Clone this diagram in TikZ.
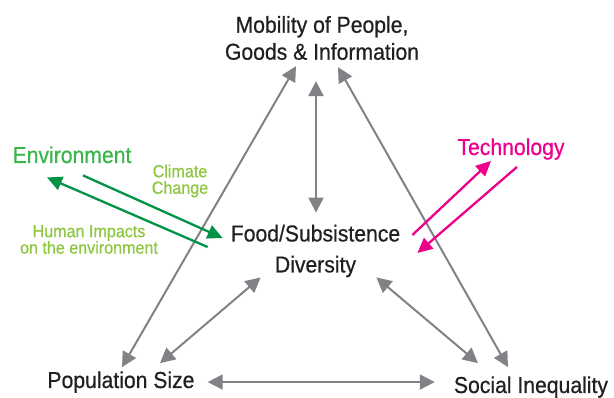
\documentclass[tikz,border=0pt]{standalone}
\usepackage{fontspec}
\setmainfont{Liberation Sans}[FakeStretch=0.92, FakeBold=0.6]
\usetikzlibrary{arrows.meta,calc}
\definecolor{textdark}{HTML}{231F20}
\definecolor{linkgray}{HTML}{808285}
\definecolor{envgreen}{HTML}{39B54A}
\definecolor{limegreen}{HTML}{8DC63F}
\definecolor{arrowgreen}{HTML}{009245}
\definecolor{techpink}{HTML}{EC008C}

\begin{document}
\begin{tikzpicture}[
    x=1pt, y=-1pt,
    % Подписи: без отступов, текст по центру
    every node/.style={inner sep=0pt, align=center, text=textdark},
    big/.style={font=\fontsize{23}{27}\selectfont},
    small/.style={font=\fontsize{17.5}{16.5}\selectfont},
    % Серые двусторонние стрелки
    link/.style={draw=linkgray, line width=2pt,
        {Triangle[length=15pt,width=15pt]}-{Triangle[length=15pt,width=15pt]}},
    % Цветные односторонние стрелки
    flow/.style={line width=2.3pt, -{Triangle[length=15pt,width=14pt]}}
]
    \useasboundingbox (0,0) rectangle (614,398);

    % Вершины треугольника и центр
    \node[big] (mob) at (322,38) {Mobility of People,\\Goods \& Information};
    \node[big, font=\fontsize{23}{31}\selectfont] (food) at (315.5,251) {Food/Subsistence\\Diversity};
    \node[big, anchor=base] (pop) at (121,388) {Population Size};
    \node[big, anchor=base] (soc) at (531,393) {Social Inequality};

    % Внешние факторы
    \node[big, anchor=base, text=envgreen] (env) at (72,163) {Environment};
    \node[big, anchor=base, text=techpink] (tech) at (511,155) {Technology};
    \node[small, text=limegreen] (clim) at (180,181) {Climate\\Change};
    \node[small, text=limegreen] (human) at (89,239.5) {Human Impacts\\on the environment};

    % Стороны треугольника
    \draw[link] ($(pop.north)+(1,-4)$) -- ($(mob.south)+(-26,6)$);
    \draw[link] ($(soc.north)+(-23,-9)$) -- ($(mob.south)+(16,7)$);
    \draw[link] ($(pop.east)+(13,0)$) -- ($(pop.east -| soc.west)+(-19,0)$);

    % Связи с центром
    \draw[link] ($(mob.south)+(-6,21)$) -- ($(food.north)+(0.5,-12)$);
    \draw[link] ($(food.south west)+(30,0)$) -- ($(pop.north)+(39,-8)$);
    \draw[link] ($(food.south east)+(-24,0)$) -- ($(soc.north)+(-53,-13)$);

    % Среда
    \draw[flow, arrowgreen] ($(env.south)+(11,12)$) -- ($(food.west)+(-8,-13)$);
    \draw[flow, arrowgreen] ($(food.west)+(-23,-4)$) -- ($(env.south)+(-25,14)$);

    % Технологии
    \draw[flow, techpink] ($(food.east)+(12,-16)$) -- ($(tech.south)+(-20,1)$);
    \draw[flow, techpink] ($(tech.south)+(6,7)$) -- ($(food.east)+(17,2)$);

\end{tikzpicture}
\end{document}
